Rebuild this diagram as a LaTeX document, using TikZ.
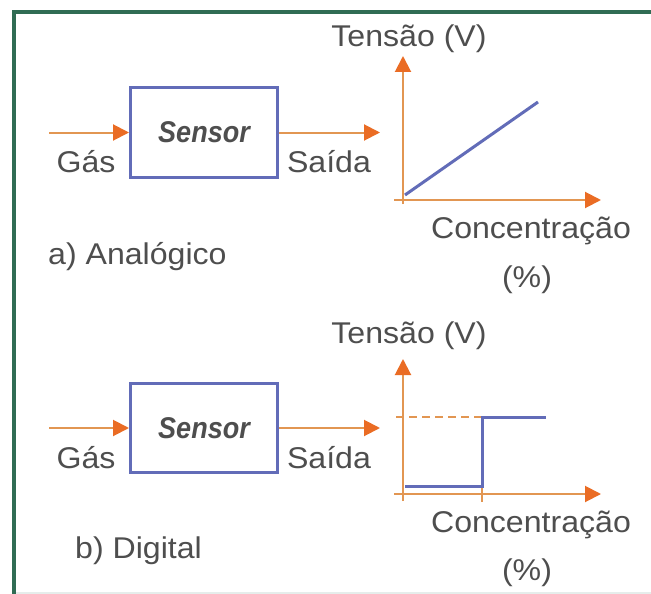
\documentclass[tikz,border=0pt]{standalone}
\usepackage{fontspec}
\setmainfont[FakeStretch=1.07]{Liberation Sans}
\newfontfamily\sensorfont[FakeStretch=0.9]{Liberation Sans}
\usepackage{tikz}
\usetikzlibrary{
arrows.meta,
positioning
}
\definecolor{frmgreen}{RGB}{48,108,84}
\definecolor{axorange}{RGB}{226,150,82}
\definecolor{tiporange}{RGB}{234,108,36}
\definecolor{sigblue}{RGB}{98,108,184}
\definecolor{txtgray}{RGB}{78,78,78}

\begin{document}
\begin{tikzpicture}[x=1pt, y=-1pt,
  lbl/.style={anchor=base, text=txtgray, inner sep=0pt, font=\fontsize{30}{34}\selectfont},
  sensorbox/.style={draw=sigblue, line width=3pt, minimum width=147pt, minimum height=89pt,
    inner sep=0pt, text=txtgray, font=\sensorfont\bfseries\itshape\fontsize{30}{34}\selectfont},
  flow/.style={draw=axorange, line width=2pt, -{Triangle[length=16pt, width=16pt, color=tiporange]}},
  signal/.style={draw=sigblue, line width=3pt}]

% Page and frame
\fill[white] (0,0) rectangle (651,594);
\useasboundingbox (0,0) rectangle (651,594);
\fill[frmgreen!12] (14,592) rectangle (651,594);
\draw[frmgreen, line width=3.5pt] (14,594) -- (14,12) -- (651,12);

% a) Analog sensor
\node[sensorbox] (sensorA) at (204,132.5) {Sensor};
\coordinate (inA) at (49,132.5);
\coordinate (outA) at (380,132.5);
\draw[flow] (inA) -- (sensorA.west);
\draw[flow] (sensorA.east) -- (outA);
\node[lbl] (gasA) at (86,172) {Gás};
\node[lbl] (saidaA) at (329,172) {Saída};
\node[lbl, anchor=base west] (capA) at (48,264) {a) Analógico};

% a) Axes
\coordinate (yA0) at (403,204);
\coordinate (yA1) at (403,56);
\coordinate (xA0) at (394,200);
\coordinate (xA1) at (601,200);
\draw[flow] (yA0) -- (yA1);
\draw[flow] (xA0) -- (xA1);
\node[lbl] (tensA) at (409,47) {Tensão (V)};
\node[lbl] (concA) at (531,238) {Concentração};
\node[lbl] (pctA) at (527,287) {(\%)};

% a) Linear response
\draw[signal] (405,195) -- (538,102);

% b) Digital sensor
\node[sensorbox] (sensorB) at (204,428) {Sensor};
\coordinate (inB) at (49,428);
\coordinate (outB) at (380,428);
\draw[flow] (inB) -- (sensorB.west);
\draw[flow] (sensorB.east) -- (outB);
\node[lbl] (gasB) at (86,468) {Gás};
\node[lbl] (saidaB) at (329,468) {Saída};
\node[lbl, anchor=base west] (capB) at (75,558) {b) Digital};

% b) Axes
\coordinate (yB0) at (403,501);
\coordinate (yB1) at (403,359);
\coordinate (xB0) at (394,494);
\coordinate (xB1) at (601,494);
\draw[flow] (yB0) -- (yB1);
\draw[flow] (xB0) -- (xB1);
\node[lbl] (tensB) at (409,343) {Tensão (V)};
\node[lbl] (concB) at (531,532) {Concentração};
\node[lbl] (pctB) at (527,580) {(\%)};

% b) Step response
\draw[axorange, line width=1.5pt, dash pattern=on 8pt off 5pt] (396,417) -- (482,417);
\draw[axorange, line width=1.2pt] (482,486) -- (482,502);
\draw[signal] (405,486) -- (482,486) -- (482,417) -- (546,417);

\end{tikzpicture}
\end{document}
